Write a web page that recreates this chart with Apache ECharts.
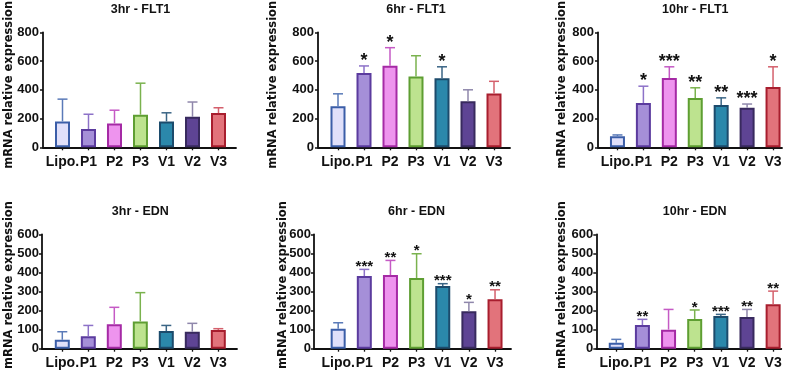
<!DOCTYPE html>
<html>
<head>
<meta charset="utf-8">
<script src="https://cdn.jsdelivr.net/npm/echarts@6/dist/echarts.min.js"></script>
<style>
    html, body {margin: 0; padding: 0; background: #fff;}
    #main {width: 792px; height: 372px;}
</style>
</head>
<body>
<div id="main"></div>
<script>
// 组别
var categories = ['Lipo.', 'P1', 'P2', 'P3', 'V1', 'V2', 'V3'];

// FLT1 均值 / SD / 显著性
var flt1_3hr = [180, 127, 166, 227, 180, 212, 238];
var flt1_3hrSd = [155, 103, 92, 219, 60, 103, 37];
var flt1_3hrSig = ['', '', '', '', '', '', ''];

var flt1_6hr = [286, 517, 567, 493, 480, 320, 375];
var flt1_6hrSd = [86, 49, 126, 144, 80, 80, 84];
var flt1_6hrSig = ['', '*', '*', '', '*', '', ''];

var flt1_10hr = [77, 308, 482, 343, 294, 275, 420];
var flt1_10hrSd = [9, 117, 78, 71, 50, 26, 140];
var flt1_10hrSig = ['', '*', '***', '**', '**', '***', '*'];

// EDN 均值 / SD / 显著性
var edn_3hr = [47, 65, 128, 143, 93, 89, 98];
var edn_3hrSd = [42, 57, 89, 151, 29, 44, 7];
var edn_3hrSig = ['', '', '', '', '', '', ''];

var edn_6hr = [105, 381, 386, 371, 329, 196, 259];
var edn_6hrSd = [31, 35, 77, 127, 12, 47, 50];
var edn_6hrSig = ['', '***', '**', '*', '***', '*', '**'];

var edn_10hr = [31, 124, 100, 156, 171, 166, 233];
var edn_10hrSd = [18, 30, 106, 47, 9, 40, 69];
var edn_10hrSig = ['', '**', '', '*', '***', '**', '**'];

var titles = ['3hr - FLT1', '6hr - FLT1', '10hr - FLT1', '3hr - EDN', '6hr - EDN', '10hr - EDN'];
var flt1Max = 800, flt1Step = 200;
var ednMax = 600, ednStep = 100;

// 颜色
var fills = ['#e0e0fa', '#a58fd8', '#ee94ee', '#bde38f', '#2b88ab', '#5e4494', '#e2737b'];
var borders = ['#3b5ea8', '#5b3b9e', '#a52aa5', '#5e9e32', '#1c4b6c', '#382a5e', '#a81e2e'];
var errColors = ['#5a7ab8', '#8d72c8', '#c55ac5', '#7ab24e', '#3a6585', '#8f87ab', '#d4606c'];

var ink = '#111';
var font = 'Liberation Sans, Arial, sans-serif';

var panels = [
    {mean: flt1_3hr, sd: flt1_3hrSd, sig: flt1_3hrSig, max: flt1Max, step: flt1Step},
    {mean: flt1_6hr, sd: flt1_6hrSd, sig: flt1_6hrSig, max: flt1Max, step: flt1Step},
    {mean: flt1_10hr, sd: flt1_10hrSd, sig: flt1_10hrSig, max: flt1Max, step: flt1Step},
    {mean: edn_3hr, sd: edn_3hrSd, sig: edn_3hrSig, max: ednMax, step: ednStep},
    {mean: edn_6hr, sd: edn_6hrSd, sig: edn_6hrSig, max: ednMax, step: ednStep},
    {mean: edn_10hr, sd: edn_10hrSd, sig: edn_10hrSig, max: ednMax, step: ednStep}
];

// 各面板位置
var layout = [
    {axisL: 43, axisR: 236, barL: 49.5, barW: 182, top: 32.3, h: 115, titleY: 3, gap: 28, namePad: 10, labM: 8, yM: 4, starSize: 18, starOff: 5},
    {axisL: 318, axisR: 510, barL: 325, barW: 182, top: 32.3, h: 115, titleY: 3, gap: 39, namePad: 10, labM: 8, yM: 4, starSize: 18, starOff: 5},
    {axisL: 598, axisR: 782, barL: 604.5, barW: 181.5, top: 32.3, h: 115, titleY: 3, gap: 30, namePad: 10, labM: 8, yM: 4, starSize: 18, starOff: 5},
    {axisL: 42, axisR: 237, barL: 49.3, barW: 182, top: 234.3, h: 114.4, titleY: 205, gap: 27, namePad: 13, labM: 7, yM: 3, starSize: 15, starOff: 2.5},
    {axisL: 314, axisR: 511, barL: 325.1, barW: 183, top: 234.3, h: 114.4, titleY: 205, gap: 25, namePad: 13, labM: 7, yM: 3, starSize: 15, starOff: 2.5},
    {axisL: 596.3, axisR: 781.3, barL: 603.2, barW: 183, top: 234.3, h: 114.4, titleY: 205, gap: 28, namePad: 13, labM: 7, yM: 3, starSize: 15, starOff: 2.5}
];

var chart = echarts.init(document.getElementById('main'));

var grids = [], xAxes = [], yAxes = [], series = [], titleList = [];

panels.forEach(function (p, i) {
    var L = layout[i];
    var a = 2 * i, b = 2 * i + 1;

    titleList.push({
        text: titles[i],
        left: L.barL + L.barW / 2,
        top: L.titleY,
        textAlign: 'center',
        padding: 0,
        textStyle: {fontSize: 12.5, fontWeight: 'bold', fontFamily: font, color: ink}
    });

    // 坐标轴框
    grids.push({left: L.axisL, top: L.top, width: L.axisR - L.axisL, height: L.h, outerBoundsMode: 'none'});
    // 柱子区域
    grids.push({left: L.barL, top: L.top, width: L.barW, height: L.h, outerBoundsMode: 'none'});

    xAxes.push({
        gridIndex: a, type: 'value', min: 0, max: 1,
        axisLine: {show: true, onZero: false, lineStyle: {color: ink, width: 1.8}},
        axisTick: {show: false}, axisLabel: {show: false}, splitLine: {show: false}
    });
    xAxes.push({
        gridIndex: b, type: 'category', data: categories,
        axisLine: {show: false},
        axisTick: {show: true, alignWithLabel: true, length: 3, lineStyle: {color: ink, width: 1.3}},
        axisLabel: {margin: L.labM, fontSize: 14, fontWeight: 'bold', fontFamily: font, color: ink, interval: 0}
    });

    yAxes.push({
        gridIndex: a, type: 'value', min: 0, max: p.max, interval: p.step,
        name: 'mRNA relative expression', nameLocation: 'middle', nameRotate: 90, nameGap: L.gap,
        nameMoveOverlap: false,
        nameTextStyle: {fontSize: 11.5, fontWeight: 'bold', fontFamily: 'DejaVu Sans', color: ink,
            padding: [0, 0, 0, L.namePad]},
        axisLine: {show: true, lineStyle: {color: ink, width: 1.8}},
        axisTick: {show: true, length: 3, lineStyle: {color: ink, width: 1.5}},
        axisLabel: {margin: L.yM, fontSize: 13, fontWeight: 'bold', fontFamily: font, color: ink},
        splitLine: {show: false}
    });
    yAxes.push({gridIndex: b, type: 'value', min: 0, max: p.max, show: false});

    series.push({
        type: 'bar', xAxisIndex: b, yAxisIndex: b, barWidth: 15,
        data: p.mean.map(function (v, k) {
            return {value: v, itemStyle: {color: fills[k], borderColor: borders[k], borderWidth: 2}};
        })
    });

    // 误差线 + 星号
    series.push({
        type: 'custom', xAxisIndex: b, yAxisIndex: b, z: 3,
        data: p.mean.map(function (v, k) { return [k, v, v + p.sd[k]]; }),
        renderItem: function (params, api) {
            var k = params.dataIndex;
            var base = api.coord([api.value(0), api.value(1)]);
            var top = api.coord([api.value(0), api.value(2)]);
            var col = errColors[k];
            var children = [
                {type: 'line', shape: {x1: base[0], y1: base[1], x2: top[0], y2: top[1]},
                    style: {stroke: col, lineWidth: 1.5}},
                {type: 'line', shape: {x1: top[0] - 5, y1: top[1], x2: top[0] + 5, y2: top[1]},
                    style: {stroke: col, lineWidth: 1.5}}
            ];
            if (p.sig[k]) {
                children.push({
                    type: 'text', x: top[0], y: top[1] - L.starOff,
                    style: {text: p.sig[k], fill: ink, font: 'bold ' + L.starSize + 'px ' + font,
                        align: 'center', verticalAlign: 'middle'}
                });
            }
            return {type: 'group', children: children};
        }
    });
});

chart.setOption({
    animation: false,
    title: titleList,
    grid: grids,
    xAxis: xAxes,
    yAxis: yAxes,
    series: series
});
</script>
</body>
</html>
